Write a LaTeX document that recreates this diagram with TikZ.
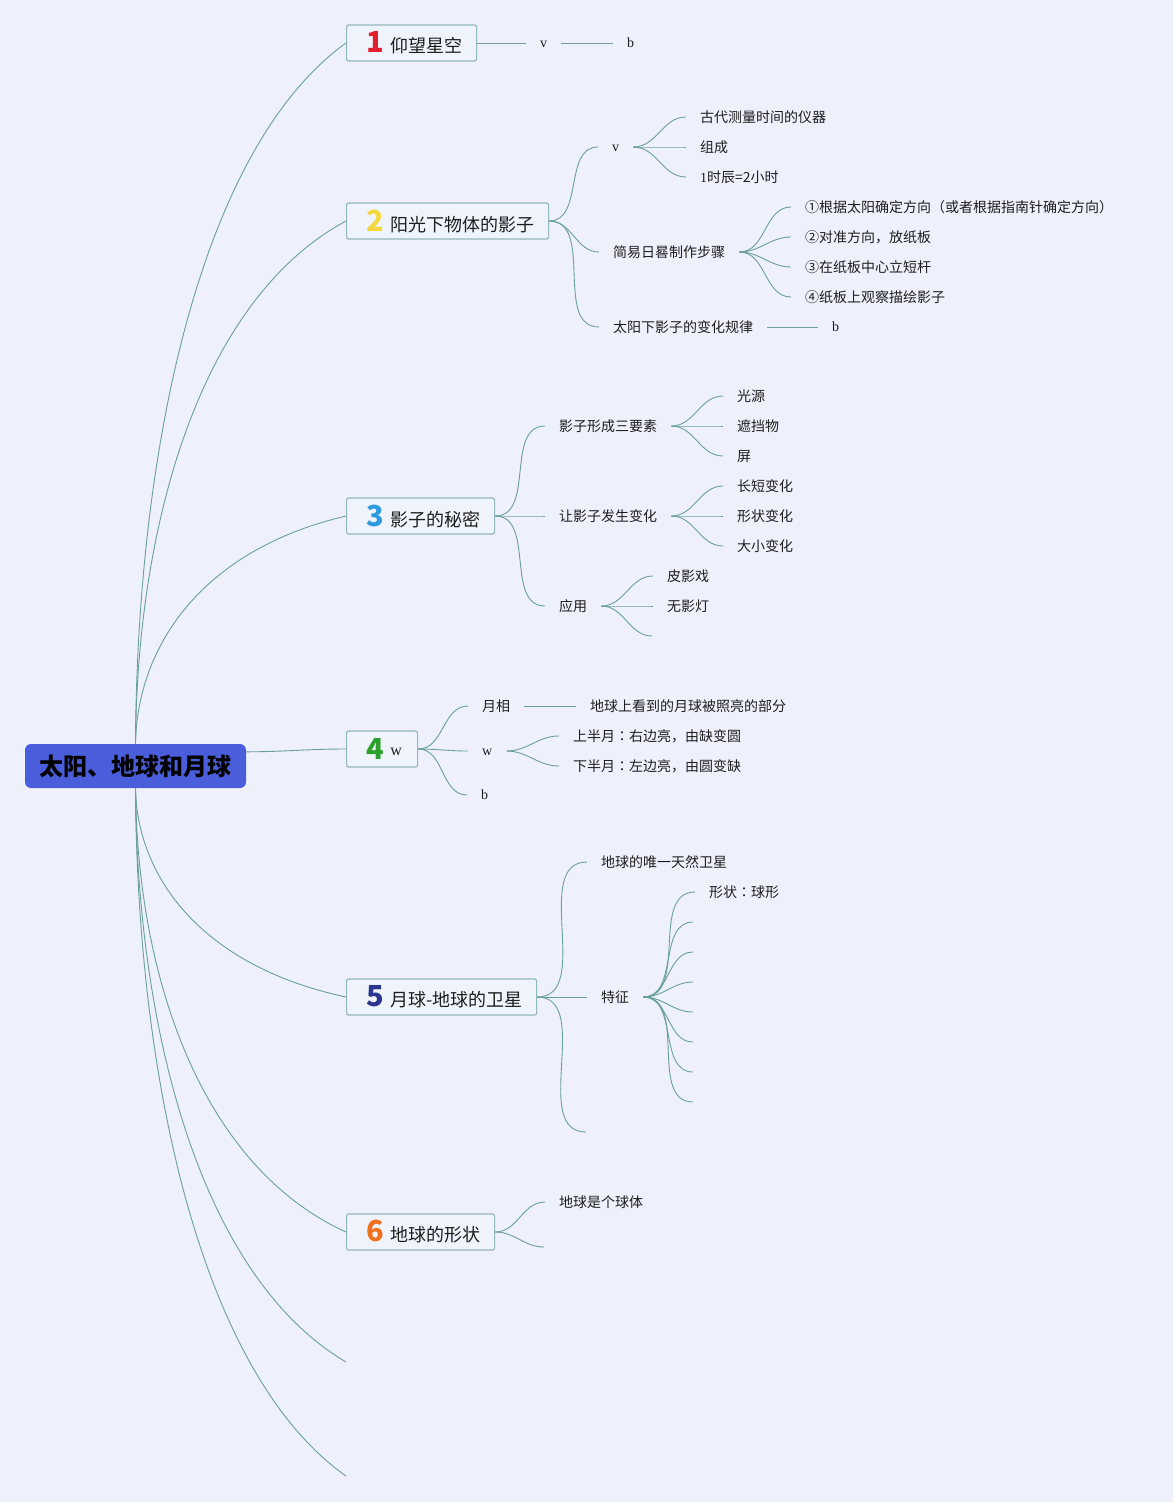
\documentclass[tikz,border=0pt]{standalone}
\usepackage{fontspec}
\usetikzlibrary{calc}
\setmainfont{Liberation Serif}
\newfontfamily\cjk{Noto Sans CJK SC}
\newfontfamily\cjkj{Noto Sans CJK JP}
\definecolor{bgc}{HTML}{EEF1FC}
\definecolor{linec}{HTML}{6A9F9A}
\definecolor{boxc}{HTML}{93B8BC}
\definecolor{boxf}{HTML}{EFF3FB}
\definecolor{rootc}{HTML}{4A5EDB}
\definecolor{txt}{HTML}{1E1E1E}
\definecolor{nA}{HTML}{E0202E}
\definecolor{nB}{HTML}{F5D742}
\definecolor{nC}{HTML}{2E9BE0}
\definecolor{nD}{HTML}{2BA02B}
\definecolor{nE}{HTML}{2A3590}
\definecolor{nF}{HTML}{F07020}
\newcommand\tptext[4]{\makebox[#1][l]{\hspace{20pt}{\cjk\bfseries\fontsize{29}{29}\selectfont\color{#2}#3}\hspace{6pt}{\cjk\fontsize{18}{20}\selectfont\color{txt}#4}}}
\newcommand\cln{{\cjkj ：}}
\begin{document}
\begin{tikzpicture}[x=1pt,y=-1pt,
 conn/.style={draw=linec, line width=0.9pt},
 topic/.style={draw=boxc, fill=boxf, line width=1.2pt, rounded corners=2pt, minimum height=36pt, inner sep=0pt, anchor=west},
 leaf/.style={inner xsep=14pt, inner ysep=0pt, text height=12.3pt, text depth=1.7pt, anchor=west, font=\cjk\fontsize{14}{16}\selectfont, text=txt},
 lat/.style={inner xsep=14pt, inner ysep=0pt, text height=9pt, text depth=0pt, anchor=west, font=\fontsize{14}{16}\selectfont, text=txt},
 sc/.style={conn, out=0, in=180},
]
\fill[bgc] (0,0) rectangle (1173,1502);
\useasboundingbox (0,0) rectangle (1173,1502);

% root
\node[fill=rootc, rounded corners=6pt, minimum width=221pt, minimum height=44pt, inner sep=0pt, font=\cjk\bfseries\fontsize{24}{28}\selectfont, text=black] (root) at (135.5,766) {太阳、地球和月球};

% topics
\node[topic] (t1) at (346,43) {\tptext{130pt}{nA}{1}{仰望星空}};
\node[topic] (t2) at (346,221) {\tptext{202pt}{nB}{2}{阳光下物体的影子}};
\node[topic] (t3) at (346,516) {\tptext{148pt}{nC}{3}{影子的秘密}};
\node[topic] (t4) at (346,749) {\tptext{71pt}{nD}{4}{\raisebox{4pt}{\rmfamily\fontsize{16}{16}\selectfont w}}};
\node[topic] (t5) at (346,997) {\tptext{190pt}{nE}{5}{月球-地球的卫星}};
\node[topic] (t6) at (346,1232) {\tptext{148pt}{nF}{6}{地球的形状}};
\coordinate (e1) at (346,1362);
\coordinate (e2) at (346,1476);

% root connectors
\foreach \t/\yt in {t1/43,t2/221,t3/516}
  \draw[conn] (root.north) .. controls (137,{744+0.42*(\yt-744)}) and (200,{\yt+0.15*(744-\yt)}) .. (\t.west);
\foreach \t/\yt in {t5/997,t6/1232,e1/1362,e2/1476}
  \draw[conn] (root.south) .. controls (137,{788+0.42*(\yt-788)}) and (200,{\yt+0.15*(788-\yt)}) .. (\t.west);
\draw[conn] ($(root.north east)+(0,8)$) to[out=0,in=180] (t4.west);

% topic 1
\node[lat] (a1) at (526,43) {v};
\node[lat] (a2) at (613,43) {b};
\draw[conn] (t1.east) -- (a1.west);
\draw[conn] (a1.east) -- (a2.west);

% topic 2
\node[lat] (b1) at (598,147) {v};
\node[leaf] (b2) at (599,252) {简易日晷制作步骤};
\node[leaf] (b3) at (599,327) {太阳下影子的变化规律};
\foreach \c in {b1,b2,b3} \draw[sc] (t2.east) to (\c.west);
\node[leaf] (b11) at (686,117) {古代测量时间的仪器};
\node[leaf] (b12) at (686,147) {组成};
\node[leaf] (b13) at (686,177) {{\rmfamily 1}时辰=2小时};
\foreach \c in {b11,b12,b13} \draw[sc] (b1.east) to (\c.west);
\node[leaf] (b21) at (791,207) {①根据太阳确定方向（或者根据指南针确定方向）};
\node[leaf] (b22) at (791,237) {②对准方向，放纸板};
\node[leaf] (b23) at (791,267) {③在纸板中心立短杆};
\node[leaf] (b24) at (791,297) {④纸板上观察描绘影子};
\foreach \c in {b21,b22,b23,b24} \draw[sc] (b2.east) to (\c.west);
\node[lat] (b31) at (818,327) {b};
\draw[conn] (b3.east) -- (b31.west);

% topic 3
\node[leaf] (c1) at (545,426) {影子形成三要素};
\node[leaf] (c2) at (545,516) {让影子发生变化};
\node[leaf] (c3) at (545,606) {应用};
\foreach \c in {c1,c2,c3} \draw[sc] (t3.east) to (\c.west);
\node[leaf] (c11) at (723,396) {光源};
\node[leaf] (c12) at (723,426) {遮挡物};
\node[leaf] (c13) at (723,456) {屏};
\foreach \c in {c11,c12,c13} \draw[sc] (c1.east) to (\c.west);
\node[leaf] (c21) at (723,486) {长短变化};
\node[leaf] (c22) at (723,516) {形状变化};
\node[leaf] (c23) at (723,546) {大小变化};
\foreach \c in {c21,c22,c23} \draw[sc] (c2.east) to (\c.west);
\node[leaf] (c31) at (653,576) {皮影戏};
\node[leaf] (c32) at (653,606) {无影灯};
\coordinate (c33) at (652,636);
\draw[sc] (c3.east) to (c31.west);
\draw[sc] (c3.east) to (c32.west);
\draw[sc] (c3.east) to (c33);

% topic 4
\node[leaf] (d1) at (468,706) {月相};
\node[lat] (d2) at (468,751) {w};
\node[lat] (d3) at (467,795) {b};
\foreach \c in {d1,d2,d3} \draw[sc] (t4.east) to (\c.west);
\node[leaf] (d11) at (576,706) {地球上看到的月球被照亮的部分};
\draw[conn] (d1.east) -- (d11.west);
\node[leaf] (d21) at (559,736) {上半月\cln 右边亮，由缺变圆};
\node[leaf] (d22) at (559,766) {下半月\cln 左边亮，由圆变缺};
\foreach \c in {d21,d22} \draw[sc] (d2.east) to (\c.west);

% topic 5
\node[leaf] (f1) at (587,862) {地球的唯一天然卫星};
\node[leaf] (f2) at (587,997) {特征};
\coordinate (f3) at (586,1132);
\draw[sc] (t5.east) to (f1.west);
\draw[sc] (t5.east) to (f2.west);
\draw[sc] (t5.east) to (f3);
\node[leaf] (f21) at (695,892) {形状\cln 球形};
\draw[sc] (f2.east) to (f21.west);
\foreach \yy in {922,952,982,1012,1042,1072,1102} {
  \coordinate (fz) at (693,\yy);
  \draw[sc] (f2.east) to (fz);
}

% topic 6
\node[leaf] (g1) at (545,1202) {地球是个球体};
\coordinate (g2) at (544,1247);
\draw[sc] (t6.east) to (g1.west);
\draw[sc] (t6.east) to (g2);
\end{tikzpicture}
\end{document}
